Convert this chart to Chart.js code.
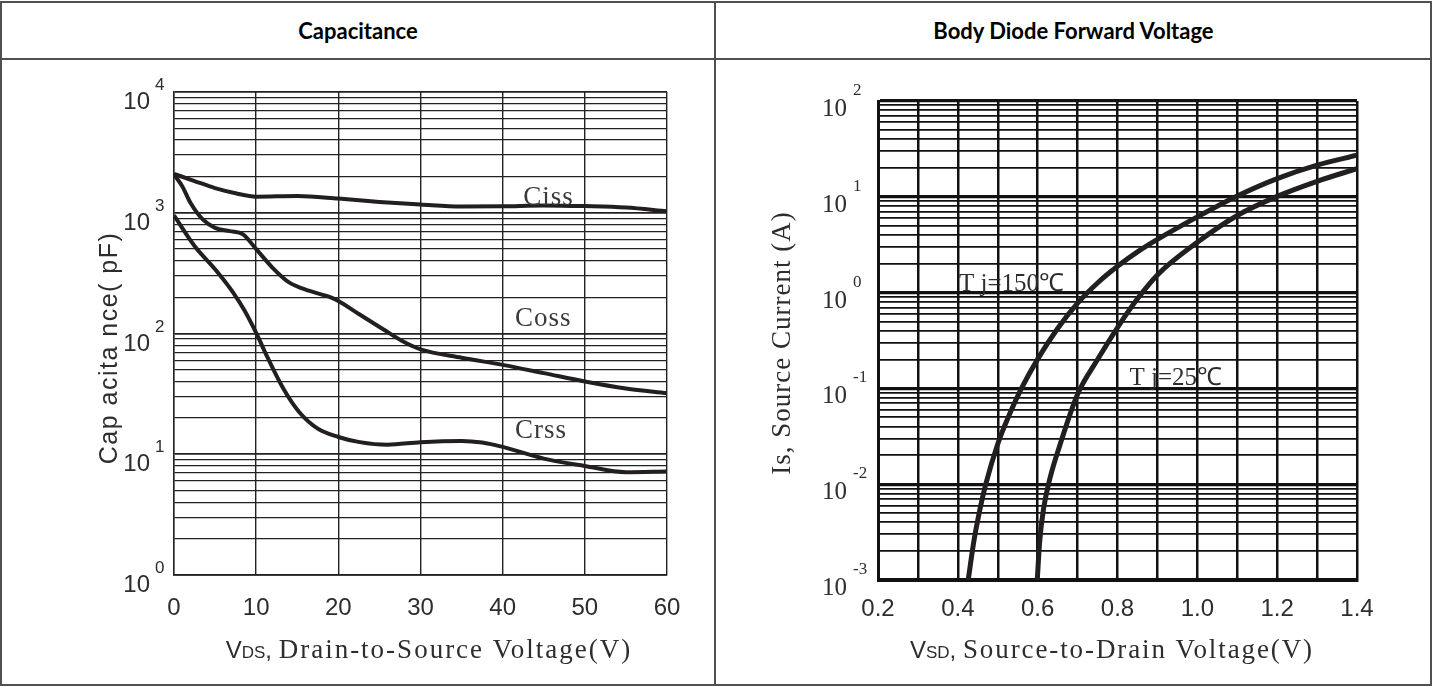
<!DOCTYPE html>
<html><head><meta charset="utf-8">
<script src="https://cdn.jsdelivr.net/npm/chart.js@4.4.1/dist/chart.umd.min.js"></script>
<style>
html,body{margin:0;padding:0;background:#fff;}
#page{position:relative;width:1439px;height:686px;overflow:hidden;background:#fff;}
.ln{position:absolute;background:#505050;z-index:5;}
.hdr{position:absolute;top:2px;height:57px;display:flex;align-items:center;justify-content:center;font-family:Lato,"Open Sans",sans-serif;font-weight:700;font-size:22px;color:#000;}
canvas{position:absolute;}
</style></head>
<body><div id="page">
<div class="hdr" style="left:1px;width:714px">Capacitance</div>
<div class="hdr" style="left:716px;width:715px">Body Diode Forward Voltage</div>
<canvas id="c1" width="715" height="625" style="left:0px;top:60px"></canvas>
<canvas id="c2" width="715" height="625" style="left:716px;top:60px"></canvas>
<div class="ln" style="left:0;top:1px;width:1432px;height:2px"></div>
<div class="ln" style="left:0;top:58px;width:1432px;height:2px"></div>
<div class="ln" style="left:0;top:684px;width:1432px;height:2px"></div>
<div class="ln" style="left:0;top:1px;width:2px;height:685px"></div>
<div class="ln" style="left:714px;top:1px;width:2px;height:685px"></div>
<div class="ln" style="left:1430px;top:1px;width:2px;height:685px"></div>
</div>
<script>
// ---------- Capacitance data (VDS in V, C in pF) ----------
const cissVds = [0, 2.5, 5, 7.5, 10, 15, 20, 25, 30, 35, 40, 45, 50, 55, 60];
const cissPf  = [2100, 1830, 1600, 1450, 1360, 1375, 1310, 1230, 1170, 1125, 1130, 1150, 1135, 1105, 1030];
const cossVds = [0, 1, 2, 3.5, 5, 6.8, 8.4, 10, 12, 14, 16.5, 19, 20, 22.5, 25.5, 28, 30, 35, 40, 45, 50, 55, 60];
const cossPf  = [2075, 1660, 1210, 880, 750, 705, 662, 500, 350, 265, 225, 200, 186, 145, 108, 85, 74, 63, 55, 47, 40, 35, 32];
const crssVds = [0, 2.5, 5, 7.2, 8.6, 10, 11.4, 13.3, 15.2, 17.5, 20, 22.6, 26, 30, 35, 37.5, 40, 45, 50, 55, 60];
const crssPf  = [950, 530, 340, 218, 154, 101, 63, 35, 22.5, 16.3, 13.9, 12.6, 12.0, 12.6, 12.9, 12.5, 11.5, 9.2, 8.0, 7.1, 7.2];
const capXTicks = [0, 10, 20, 30, 40, 50, 60];
const capSeriesNames = ['Ciss', 'Coss', 'Crss'];

// ---------- Body diode data (VSD in V, Is in A) ----------
const vsd150 = [0.426, 0.44, 0.455, 0.47, 0.5, 0.53, 0.56, 0.6, 0.65, 0.7, 0.75, 0.8, 0.85, 0.9, 1.0, 1.1, 1.2, 1.3, 1.4];
const is150  = [0.001, 0.00251, 0.00537, 0.01, 0.0263, 0.0543, 0.101, 0.202, 0.422, 0.776, 1.26, 1.88, 2.66, 3.59, 6.17, 10.2, 15.5, 21.4, 27.2];
const vsd25  = [0.599, 0.605, 0.615, 0.63, 0.655, 0.7, 0.75, 0.8, 0.85, 0.9, 1.0, 1.1, 1.2, 1.3, 1.4];
const is25   = [0.001, 0.00251, 0.00562, 0.0112, 0.0251, 0.0871, 0.2, 0.432, 0.861, 1.53, 3.35, 6.38, 10.1, 14.5, 19.7];
const diodeXTicks = [0.2, 0.3, 0.4, 0.5, 0.6, 0.7, 0.8, 0.9, 1.0, 1.1, 1.2, 1.3, 1.4];
const diodeSeriesNames = ['T j=150\u2103', 'T j=25\u2103'];

const pts = (xs, ys) => xs.map((v, i) => ({x: v, y: ys[i]}));
function logTicks(minExp, maxExp) {
  const out = [];
  for (let e = minExp; e < maxExp; e++)
    for (let m = 1; m < 10; m++) out.push(parseFloat((m * Math.pow(10, e)).toPrecision(4)));
  out.push(parseFloat(Math.pow(10, maxExp).toPrecision(4)));
  return out;
}
const isPow10 = v => { const e = Math.log10(v); return Math.abs(e - Math.round(e)) < 1e-9; };

const decor = {
  id: 'decor',
  afterDraw(chart, args, o) {
    const ctx = chart.ctx, xs = chart.scales.x, ys = chart.scales.y;
    ctx.save();
    const yl = o.yLabels;
    ctx.fillStyle = yl.color;
    ys.ticks.forEach(t => {
      if (!isPow10(t.value)) return;
      const e = Math.round(Math.log10(t.value));
      const py = ys.getPixelForValue(t.value);
      ctx.font = yl.font; ctx.textAlign = 'right'; ctx.textBaseline = 'alphabetic';
      ctx.fillText('10', yl.right, py + yl.baseDy);
      ctx.font = yl.supFont; ctx.textAlign = 'left';
      ctx.fillText(String(e), yl.supLeft, py + yl.supDy);
    });
    o.labels.forEach(l => {
      ctx.font = l.font; ctx.fillStyle = l.color; ctx.textAlign = 'left'; ctx.textBaseline = 'alphabetic';
      ctx.letterSpacing = l.spacing || '0px';
      ctx.fillText(l.text, xs.getPixelForValue(l.x), ys.getPixelForValue(l.y));
      ctx.letterSpacing = '0px';
    });
    const xt = o.xTitle;
    let total = 0;
    xt.parts.forEach(p => { ctx.font = p.font; ctx.letterSpacing = p.spacing || '0px'; p.w = ctx.measureText(p.text).width; total += p.w; });
    let cx = xt.cx - total / 2;
    ctx.textAlign = 'left'; ctx.textBaseline = 'alphabetic'; ctx.fillStyle = xt.color;
    xt.parts.forEach(p => { ctx.font = p.font; ctx.letterSpacing = p.spacing || '0px'; ctx.fillText(p.text, cx, xt.baseline); cx += p.w; });
    ctx.letterSpacing = '0px';
    const yt = o.yTitle;
    ctx.translate(yt.cx, yt.cy); ctx.rotate(-Math.PI / 2);
    ctx.font = yt.font; ctx.letterSpacing = yt.spacing || '0px'; ctx.fillStyle = yt.color;
    ctx.textAlign = 'center'; ctx.textBaseline = 'middle';
    ctx.fillText(yt.text, 0, 0);
    ctx.letterSpacing = '0px';
    ctx.restore();
  }
};

const SANS = '"Liberation Sans", Arial, sans-serif';
const SERIF = '"Liberation Serif", "Times New Roman", serif';
const INK = '#231f20';

new Chart(document.getElementById('c1'), {
  type: 'line',
  data: { datasets: [
    {label: capSeriesNames[0], data: pts(cissVds, cissPf)},
    {label: capSeriesNames[1], data: pts(cossVds, cossPf)},
    {label: capSeriesNames[2], data: pts(crssVds, crssPf)}
  ].map(d => Object.assign(d, {borderColor: INK, borderWidth: 4, pointRadius: 0, cubicInterpolationMode: 'monotone', fill: false})) },
  options: {
    responsive: false, animation: false, events: [],
    layout: {padding: {left: 174, top: 32, right: 48, bottom: 60}},
    plugins: {
      legend: {display: false}, tooltip: {enabled: false},
      decor: {
        yLabels: {font: '24px ' + SANS, supFont: '17px ' + SANS, color: '#2d2d2d', right: 150, supLeft: 155, baseDy: 17, supDy: -2},
        labels: [
          {text: capSeriesNames[0], x: 42.5, y: 1170, font: '27px ' + SERIF, color: '#3a3a3a', spacing: '1px'},
          {text: capSeriesNames[1], x: 41.5, y: 115, font: '27px ' + SERIF, color: '#3a3a3a', spacing: '1px'},
          {text: capSeriesNames[2], x: 41.5, y: 13.7, font: '27px ' + SERIF, color: '#3a3a3a', spacing: '1px'}
        ],
        xTitle: {cx: 429, baseline: 598, color: '#2d2d2d', parts: [
          {text: 'V', font: '24px ' + SANS}, {text: 'DS', font: '17px ' + SANS}, {text: ', ', font: '24px ' + SANS},
          {text: 'Drain-to-Source Voltage(V)', font: '27px ' + SERIF, spacing: '2px'}]},
        yTitle: {text: 'Cap acita nce( pF)', font: '25px ' + SANS, spacing: '1.5px', color: '#2d2d2d', cx: 110, cy: 288}
      }
    },
    scales: {
      x: {type: 'linear', min: 0, max: 60,
          afterBuildTicks: s => { s.ticks = capXTicks.map(v => ({value: v})); },
          ticks: {font: {family: SANS, size: 24}, color: '#2d2d2d', padding: 19, maxRotation: 0, autoSkip: false},
          grid: {color: '#222', lineWidth: 1.4, drawTicks: false},
          border: {color: '#222', width: 1.4},
          afterFit: s => { s.height = 50; }},
      y: {type: 'logarithmic', min: 1, max: 10000,
          afterBuildTicks: s => { s.ticks = logTicks(0, 4).map(v => ({value: v})); },
          ticks: {display: false},
          grid: {color: '#222', lineWidth: c => (c.tick && isPow10(c.tick.value)) ? 1.8 : 1.3, drawTicks: false},
          border: {color: '#222', width: 1.4},
          afterFit: s => { s.width = 0; }}
    }
  },
  plugins: [decor]
});

new Chart(document.getElementById('c2'), {
  type: 'line',
  data: { datasets: [
    {label: diodeSeriesNames[0], data: pts(vsd150, is150)},
    {label: diodeSeriesNames[1], data: pts(vsd25, is25)}
  ].map(d => Object.assign(d, {borderColor: INK, borderWidth: 5, pointRadius: 0, cubicInterpolationMode: 'monotone', fill: false})) },
  options: {
    responsive: false, animation: false, events: [],
    layout: {padding: {left: 162, top: 41, right: 74, bottom: 55}},
    plugins: {
      legend: {display: false}, tooltip: {enabled: false},
      decor: {
        yLabels: {font: '25px ' + SERIF, supFont: '17px ' + SERIF, color: '#2d2d2d', right: 131, supLeft: 137, baseDy: 15, supDy: -6},
        labels: [
          {text: diodeSeriesNames[0], x: 0.403, y: 1.05, font: '25px ' + SERIF, color: '#2d2d2d'},
          {text: diodeSeriesNames[1], x: 0.83, y: 0.108, font: '25px ' + SERIF, color: '#2d2d2d'}
        ],
        xTitle: {cx: 396, baseline: 598, color: '#2d2d2d', parts: [
          {text: 'V', font: '24px ' + SANS}, {text: 'SD', font: '17px ' + SANS}, {text: ', ', font: '24px ' + SANS},
          {text: 'Source-to-Drain Voltage(V)', font: '27px ' + SERIF, spacing: '1.9px'}]},
        yTitle: {text: 'Is, Source Current (A)', font: '27px ' + SERIF, spacing: '1px', color: '#2d2d2d', cx: 67, cy: 283}
      }
    },
    scales: {
      x: {type: 'linear', min: 0.2, max: 1.4,
          afterBuildTicks: s => { s.ticks = diodeXTicks.map(v => ({value: v})); },
          ticks: {font: {family: SANS, size: 24}, color: '#2d2d2d', padding: 15, maxRotation: 0, autoSkip: false,
                  callback: v => (Math.round(v * 10) % 2 === 0) ? v.toFixed(1) : ''},
          grid: {color: '#111', lineWidth: 2.5, drawTicks: false},
          border: {color: '#111', width: 3},
          afterFit: s => { s.height = 50; }},
      y: {type: 'logarithmic', min: 0.001, max: 100,
          afterBuildTicks: s => { s.ticks = logTicks(-3, 2).map(v => ({value: v})); },
          ticks: {display: false},
          grid: {color: '#111', lineWidth: c => (c.tick && isPow10(c.tick.value)) ? 3.2 : 1.8, drawTicks: false},
          border: {color: '#111', width: 3},
          afterFit: s => { s.width = 0; }}
    }
  },
  plugins: [decor]
});
</script>
</body></html>
